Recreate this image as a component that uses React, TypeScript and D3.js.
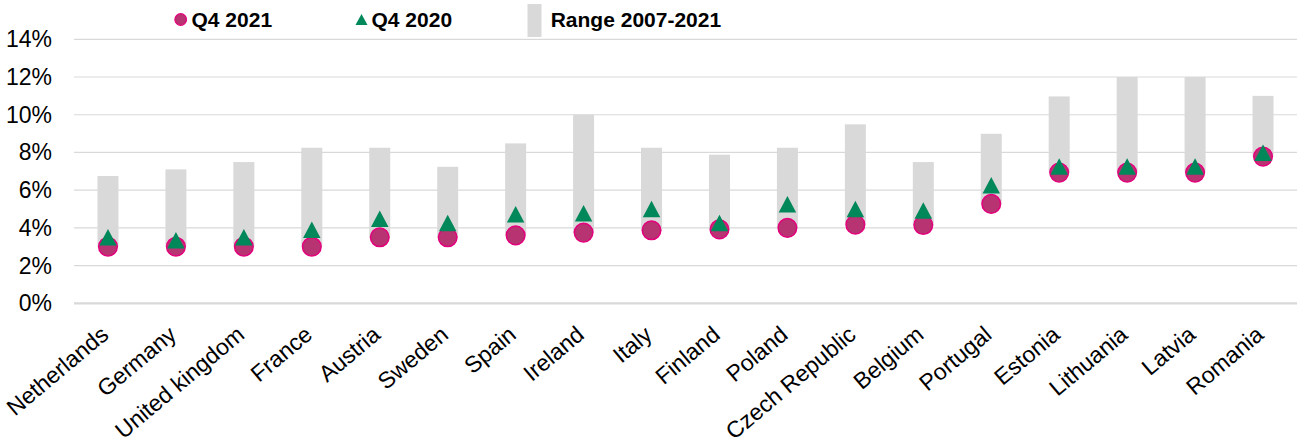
import React from "react";
import * as d3 from "d3";

const countries = [
  "Netherlands", "Germany", "United kingdom", "France", "Austria", "Sweden",
  "Spain", "Ireland", "Italy", "Finland", "Poland", "Czech Republic",
  "Belgium", "Portugal", "Estonia", "Lithuania", "Latvia", "Romania",
];
const q42021 = [3.0, 3.0, 3.0, 3.0, 3.5, 3.5, 3.6, 3.75, 3.87, 3.92, 4.0, 4.17, 4.15, 5.27, 6.93, 6.93, 6.93, 7.78];
const q42020 = [3.5, 3.35, 3.5, 3.9, 4.49, 4.26, 4.72, 4.77, 5.0, 4.26, 5.25, 5.0, 4.92, 6.26, 7.25, 7.25, 7.25, 7.98];
const rangeLow = [3.0, 3.0, 3.0, 3.0, 3.5, 3.5, 3.6, 3.75, 3.87, 3.92, 4.0, 4.17, 4.15, 5.27, 6.93, 6.93, 6.93, 7.78];
const rangeHigh = [6.75, 7.1, 7.49, 8.25, 8.25, 7.24, 8.48, 10.0, 8.25, 7.88, 8.25, 9.49, 7.49, 8.99, 10.97, 12.0, 12.0, 11.0];
const yTicks = [0, 2, 4, 6, 8, 10, 12, 14];
const legendLabels = ["Q4 2021", "Q4 2020", "Range 2007-2021"];

const W = 1305;
const H = 444;
const FONT = "Liberation Sans, Arial, sans-serif";
const PINK_FILL = "#b83372";
const PINK_STROKE = "#e4007c";
const GREEN = "#00875a";
const GREY = "#d9d9d9";

export default function App() {
  const x = d3.scaleBand<string>().domain(countries).range([74, 1297]).padding(0);
  const y = d3.scaleLinear().domain([0, 14]).range([303.3, 39.3]);
  const bw = 21;
  const triPath = (cx: number, cy: number, w: number, h: number) =>
    `M${cx},${cy - h / 2}L${cx + w / 2},${cy + h / 2}L${cx - w / 2},${cy + h / 2}Z`;

  return (
    <div style={{ position: "absolute", left: 0, top: 0 }}>
      <svg width={W} height={H} style={{ display: "block" }} fontFamily={FONT}>
        {yTicks.map((t) => (
          <line
            key={t}
            x1={74}
            x2={1297}
            y1={y(t)}
            y2={y(t)}
            stroke={GREY}
            strokeWidth={t === 0 ? 2.2 : 1.2}
          />
        ))}
        {yTicks.map((t) => (
          <text key={"l" + t} x={52} y={y(t)} dy="0.35em" textAnchor="end" fontSize={23} fill="#000">
            {t}%
          </text>
        ))}
        {countries.map((c, i) => (
          <rect
            key={"r" + c}
            x={(x(c) as number) + x.bandwidth() / 2 - bw / 2}
            width={bw}
            y={y(rangeHigh[i])}
            height={y(rangeLow[i]) - y(rangeHigh[i])}
            fill={GREY}
          />
        ))}
        {countries.map((c, i) => (
          <circle
            key={"c" + c}
            cx={(x(c) as number) + x.bandwidth() / 2}
            cy={y(q42021[i])}
            r={9.3}
            fill={PINK_FILL}
            stroke={PINK_STROKE}
            strokeWidth={1.5}
          />
        ))}
        {countries.map((c, i) => (
          <path
            key={"t" + c}
            d={triPath((x(c) as number) + x.bandwidth() / 2, y(q42020[i]), 17.5, 16.5)}
            fill={GREEN}
          />
        ))}
        {countries.map((c) => {
          const ax = (x(c) as number) + x.bandwidth() / 2 + 2;
          const ay = 337;
          return (
            <text
              key={"x" + c}
              transform={`translate(${ax},${ay}) rotate(-40)`}
              textAnchor="end"
              fontSize={23}
              fill="#000"
            >
              {c}
            </text>
          );
        })}
        <circle cx={180.7} cy={19.5} r={5.8} fill={PINK_FILL} stroke={PINK_STROKE} strokeWidth={1.2} />
        <text x={191.5} y={27} fontSize={21} fontWeight="bold" fill="#000">
          {legendLabels[0]}
        </text>
        <path d={triPath(361.5, 19.5, 12, 11)} fill={GREEN} />
        <text x={371.5} y={27} fontSize={21} fontWeight="bold" fill="#000">
          {legendLabels[1]}
        </text>
        <rect x={527.5} y={4} width={14} height={33} fill={GREY} />
        <text x={550.7} y={27} fontSize={21} fontWeight="bold" fill="#000">
          {legendLabels[2]}
        </text>
      </svg>
    </div>
  );
}
